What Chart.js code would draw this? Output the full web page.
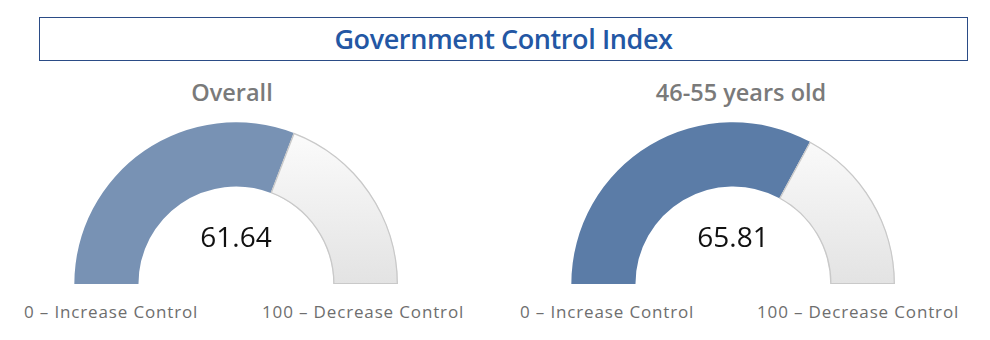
<!DOCTYPE html>
<html>
<head>
<meta charset="utf-8">
<script src="https://cdn.jsdelivr.net/npm/chart.js@4.4.1/dist/chart.umd.min.js"></script>
<style>
  html, body { margin:0; padding:0; background:#fff; width:990px; height:340px; overflow:hidden; }
  body { position:relative; font-family:"Open Sans", sans-serif; }
  #titlebox { position:absolute; left:39px; top:17px; width:927px; height:42px; border:1.5px solid #2b4c86; box-sizing:content-box; }
  #title { position:absolute; left:0; right:0; top:0; line-height:42px; text-align:center; color:#2357a4; font-weight:600; font-size:27px; letter-spacing:-0.4px; }
  .sub { position:absolute; width:300px; text-align:center; color:#7a7a7a; font-weight:600; font-size:23.5px; top:76px; line-height:32px; }
  .lbl { position:absolute; color:#6e6e6e; font-family:"Open Sans", sans-serif; font-size:17px; letter-spacing:0.85px; top:300px; line-height:24px; white-space:nowrap; }
  .gauge { position:absolute; }
</style>
</head>
<body>
<div id="titlebox"><div id="title">Government Control Index</div></div>
<div class="sub" id="sub0" style="left:82px;"></div>
<div class="sub" id="sub1" style="left:591px;"></div>
<canvas class="gauge" id="g0" width="324" height="162" style="left:74px; top:122px;"></canvas>
<canvas class="gauge" id="g1" width="324" height="162" style="left:571px; top:122px;"></canvas>
<div class="lbl" style="left:24px;" id="l0a"></div>
<div class="lbl" style="left:262px;" id="l0b"></div>
<div class="lbl" style="left:520px;" id="l1a"></div>
<div class="lbl" style="left:757px;" id="l1b"></div>
<script>
const groups = ["Overall", "46-55 years old"];
const values = [61.64, 65.81];
const scaleMin = 0;
const scaleMax = 100;
const minLabel = "0 – Increase Control";
const maxLabel = "100 – Decrease Control";
const fillColors = ["#7892b4", "#5b7ca7"];

document.getElementById('sub0').textContent = groups[0];
document.getElementById('sub1').textContent = groups[1];
['l0a','l1a'].forEach(id => document.getElementById(id).textContent = minLabel);
['l0b','l1b'].forEach(id => document.getElementById(id).textContent = maxLabel);

const centerText = {
  id: 'centerText',
  afterDraw(chart) {
    const meta = chart.getDatasetMeta(0);
    const arc = meta.data[0];
    if (!arc) return;
    const ctx = chart.ctx;
    ctx.save();
    ctx.font = '28px "Open Sans", sans-serif';
    ctx.fillStyle = '#111';
    ctx.textAlign = 'center';
    ctx.textBaseline = 'middle';
    ctx.fillText(chart.config.options.plugins.centerText.text, arc.x, arc.y - 45);
    ctx.restore();
  }
};

function makeGauge(id, i) {
  const v = values[i];
  new Chart(document.getElementById(id), {
    type: 'doughnut',
    data: {
      labels: ['value', 'rest'],
      datasets: [{
        data: [v - scaleMin, scaleMax - v],
        backgroundColor: (c) => {
          if (c.dataIndex === 0) return fillColors[i];
          const ca = c.chart.chartArea;
          if (!ca) return '#f0f0f0';
          const g = c.chart.ctx.createLinearGradient(0, ca.top, 0, ca.bottom);
          g.addColorStop(0, '#fdfdfd');
          g.addColorStop(1, '#e3e3e3');
          return g;
        },
        borderColor: [fillColors[i], '#c9c9c9'],
        borderWidth: [0, 1],
        borderAlign: 'inner'
      }]
    },
    options: {
      responsive: false,
      animation: false,
      rotation: -90,
      circumference: 180,
      cutout: '60%',
      layout: { padding: 0 },
      plugins: {
        legend: { display: false },
        tooltip: { enabled: false },
        centerText: { text: v.toFixed(2) }
      }
    },
    plugins: [centerText]
  });
}
makeGauge('g0', 0);
makeGauge('g1', 1);
</script>
</body>
</html>
